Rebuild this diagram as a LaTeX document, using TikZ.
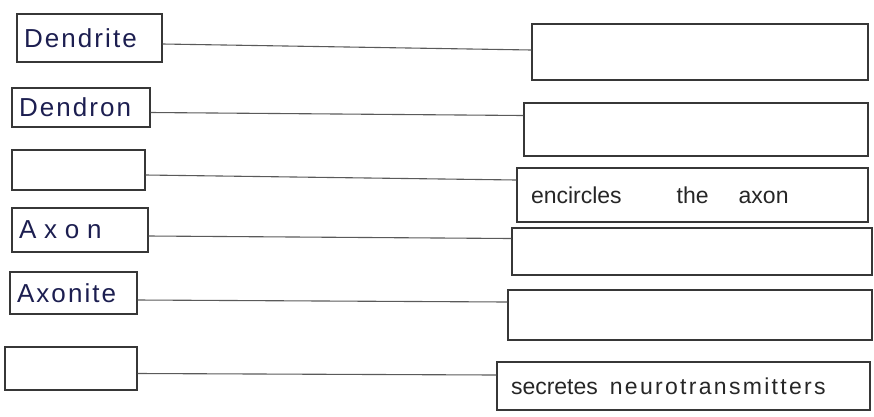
\documentclass[tikz,border=0pt]{standalone}
\usepackage{fontspec}
\setmainfont{Liberation Sans}
\newfontfamily\handfont[LetterSpace=8]{Liberation Sans}
\usepackage{tikz}
\usetikzlibrary{positioning}
\definecolor{inkblue}{RGB}{28,30,80}
\definecolor{pencil}{RGB}{55,55,55}
\definecolor{lead}{RGB}{90,90,90}

\begin{document}
\begin{tikzpicture}[
  x=1pt, y=-1pt,
  lbox/.style = {
    rectangle, draw=pencil, line width=1.2pt,
    inner xsep=7pt, inner ysep=2pt, align=left,
    font=\handfont\fontsize{26}{28}\selectfont, text=inkblue
  },
  rbox/.style = {
    rectangle, draw=pencil, line width=1.2pt,
    inner xsep=14pt, inner ysep=2pt, align=left,
    font=\fontsize{23}{25}\selectfont, text=black!85
  },
  link/.style = {draw=lead, line width=1.1pt}
]
\useasboundingbox (0,0) rectangle (874,416);
% left column
\node[lbox, text width=131pt, minimum height=48pt] (dendrite) at (89.5,38)  {Dendrite};
\node[lbox, text width=124pt, minimum height=39pt] (dendron)  at (81,107.5) {Dendron};
\node[lbox, text width=119pt, minimum height=40pt] (blankA)   at (78.5,170) {};
\node[lbox, text width=122pt, minimum height=44pt] (axon)     at (80,230)
  {\addfontfeature{LetterSpace=30}Axon};
\node[lbox, text width=113pt, minimum height=42pt] (axonite)  at (73.5,293) {Axonite};
\node[lbox, text width=118pt, minimum height=43pt] (blankB)   at (71,368.5) {};
% right column
\node[rbox, text width=308pt, minimum height=56pt] (descA) at (700,52)    {};
\node[rbox, text width=316pt, minimum height=53pt] (descB) at (696,129.5) {};
\node[rbox, text width=323pt, minimum height=54pt] (sheath) at (692.5,195)
  {encircles\hspace{55pt}the\hspace{30pt}axon};
\node[rbox, text width=332pt, minimum height=47pt] (descC) at (692,251.5) {};
\node[rbox, text width=336pt, minimum height=50pt] (descD) at (690,315)   {};
\node[rbox, text width=345pt, minimum height=48pt] (synapse) at (683.5,386)
  {secretes\hspace{12pt}{\addfontfeature{LetterSpace=10}neurotransmitters}};
% connectors
\draw[link] ([yshift=-6pt]dendrite.east) -- ([yshift=2pt]descA.west);
\draw[link] ([yshift=-5pt]dendron.east)  -- ([yshift=14pt]descB.west);
\draw[link] ([yshift=-5pt]blankA.east)   -- ([yshift=15pt]sheath.west);
\draw[link] ([yshift=-6pt]axon.east)     -- ([yshift=13pt]descC.west);
\draw[link] ([yshift=-7pt]axonite.east)  -- ([yshift=13pt]descD.west);
\draw[link] ([yshift=-5pt]blankB.east)   -- ([yshift=11pt]synapse.west);
\end{tikzpicture}
\end{document}
